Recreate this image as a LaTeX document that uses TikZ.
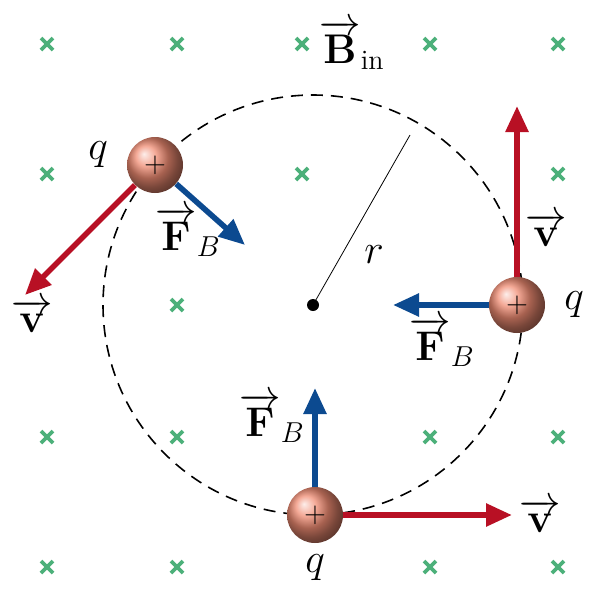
\documentclass[tikz,border=0pt]{standalone}
\usepackage{amsmath}
\usetikzlibrary{arrows.meta}
\definecolor{vred}{RGB}{184,16,36}
\definecolor{fblue}{RGB}{12,74,144}
\definecolor{xgreen}{RGB}{76,176,122}
\definecolor{qball}{RGB}{240,140,115}
\begin{document}
\begin{tikzpicture}[
            x = 0.5pt, y = -0.5pt, % pixel grid
            > = {Triangle[length=13pt,width=11pt]}, % arrow head style
            font = \fontsize{20}{24}\selectfont
        ]

        \tikzset{
            particle/.style = {circle, minimum size = 28pt, inner sep = 0pt,
                shading = ball, ball color = qball, font = \fontsize{14}{14}\selectfont},
            vel/.style = {->, vred, line width = 2.8pt},
            force/.style = {->, fblue, line width = 2.8pt},
            cross/.style = {xgreen, line width = 1.8pt}
        }

        \useasboundingbox (0,0) rectangle (610,600);

        % field marks
        \foreach \px/\py in {47/44, 177/44, 302/44, 430/44, 558/44,
                             47/174, 302/174, 558/174,
                             177/305,
                             47/437, 177/437, 430/437, 558/437,
                             47/567, 177/567, 430/567, 558/567}
            \draw[cross] (\px-6,\py-6) -- (\px+6,\py+6) (\px-6,\py+6) -- (\px+6,\py-6);

        % orbit
        \coordinate (o) at (313,305);
        \draw[dashed, dash pattern = on 6pt off 4pt, thick] (o) circle [radius = 105pt];
        \fill (o) circle [radius = 3pt];
        \coordinate (rim) at (410,135);
        \draw (o) -- (rim);
        \node (r) at (374,255) {$r$};

        \coordinate (v1) at (25,295);
        \coordinate (f1) at (245,245);
        \coordinate (v2) at (517,106);
        \coordinate (f2) at (393,305);
        \coordinate (f3) at (315,388);
        \coordinate (v3) at (512,515);

        % particles
        \node[particle] (p1) at (155,165) {$+$};
        \node[particle] (p2) at (517,305) {$+$};
        \node[particle] (p3) at (315,515) {$+$};

        \draw[vel] (p1) -- (v1);
        \draw[force] (p1) -- (f1);
        \draw[vel] (p2) -- (v2);
        \draw[force] (p2) -- (f2);
        \draw[force] (p3) -- (f3);
        \draw[vel] (p3) -- (v3);

        % labels
        \node (b) at (352,45) {$\overrightarrow{\mathbf{B}}_{\text{in}}$};
        \node (q1) at (98,155) {$q$};
        \node (q2) at (574,305) {$q$};
        \node (q3) at (315,568) {$q$};
        \node (lv1) at (32,316) {$\overrightarrow{\mathbf{v}}$};
        \node (lf1) at (188,232) {$\overrightarrow{\mathbf{F}}_{B}$};
        \node (lv2) at (546,230) {$\overrightarrow{\mathbf{v}}$};
        \node (lf2) at (442,342) {$\overrightarrow{\mathbf{F}}_{B}$};
        \node (lf3) at (272,418) {$\overrightarrow{\mathbf{F}}_{B}$};
        \node (lv3) at (540,516) {$\overrightarrow{\mathbf{v}}$};

  \end{tikzpicture}
\end{document}
